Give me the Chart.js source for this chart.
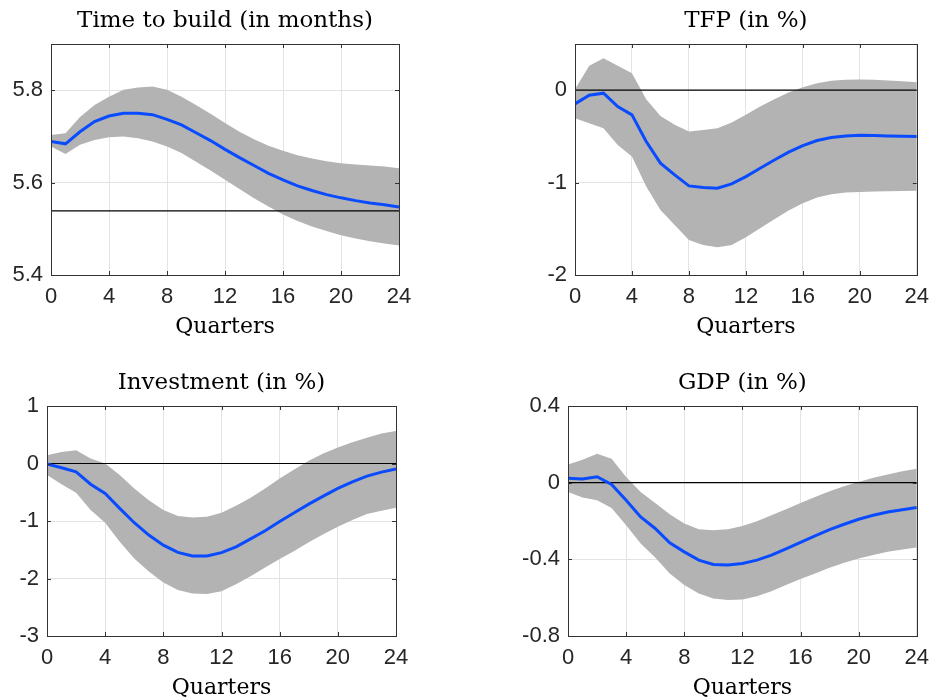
<!DOCTYPE html>
<html>
<head>
<meta charset="utf-8">
<script src="https://cdn.jsdelivr.net/npm/chart.js@4"></script>
<style>
    body { margin: 0; background: #fff; }
    #wrap { position: relative; width: 938px; height: 700px; }
    canvas { position: absolute; }
</style>
</head>
<body>
<div id="wrap">
    <canvas id="c1" width="469" height="350" style="left:0;top:0"></canvas>
    <canvas id="c2" width="469" height="350" style="left:469px;top:0"></canvas>
    <canvas id="c3" width="469" height="350" style="left:0;top:350px"></canvas>
    <canvas id="c4" width="469" height="350" style="left:469px;top:350px"></canvas>
</div>
<script>
var quarters = [0,1,2,3,4,5,6,7,8,9,10,11,12,13,14,15,16,17,18,19,20,21,22,23,24];
var xTicks = [0,4,8,12,16,20,24];

// Time to build (in months)
var ttbMedian = [5.689,5.684,5.710,5.732,5.744,5.750,5.750,5.747,5.737,5.725,5.708,5.691,5.672,5.654,5.637,5.620,5.606,5.593,5.583,5.574,5.567,5.561,5.556,5.552,5.547];
var ttbUpper  = [5.703,5.707,5.742,5.768,5.786,5.801,5.806,5.808,5.801,5.786,5.768,5.749,5.729,5.710,5.694,5.680,5.669,5.659,5.652,5.646,5.642,5.639,5.637,5.635,5.631];
var ttbLower  = [5.678,5.662,5.682,5.692,5.698,5.700,5.696,5.689,5.678,5.664,5.645,5.626,5.606,5.586,5.566,5.548,5.531,5.517,5.505,5.495,5.486,5.479,5.473,5.468,5.464];
var ttbSteady = 5.5386;
var ttbTicks = [5.4,5.6,5.8];

// TFP (in %)
var tfpMedian = [-0.148,-0.054,-0.032,-0.177,-0.267,-0.556,-0.790,-0.917,-1.036,-1.054,-1.061,-1.014,-0.935,-0.845,-0.755,-0.671,-0.599,-0.545,-0.513,-0.495,-0.487,-0.491,-0.495,-0.498,-0.502];
var tfpUpper  = [0.010,0.264,0.347,0.264,0.184,-0.097,-0.278,-0.375,-0.448,-0.430,-0.412,-0.350,-0.267,-0.177,-0.097,-0.025,0.032,0.076,0.101,0.112,0.116,0.112,0.105,0.097,0.087];
var tfpLower  = [-0.303,-0.357,-0.412,-0.592,-0.718,-1.043,-1.296,-1.458,-1.621,-1.675,-1.700,-1.675,-1.592,-1.495,-1.397,-1.303,-1.224,-1.162,-1.126,-1.108,-1.101,-1.097,-1.094,-1.090,-1.087];
var tfpTicks = [-2,-1,0];

// Investment (in %)
var invMedian = [-0.010,-0.075,-0.145,-0.360,-0.520,-0.780,-1.030,-1.245,-1.420,-1.546,-1.610,-1.610,-1.550,-1.450,-1.310,-1.170,-1.010,-0.857,-0.706,-0.567,-0.434,-0.318,-0.220,-0.150,-0.093];
var invUpper  = [0.145,0.200,0.230,0.087,0.000,-0.200,-0.434,-0.637,-0.810,-0.915,-0.940,-0.926,-0.857,-0.735,-0.596,-0.434,-0.260,-0.104,0.046,0.174,0.278,0.370,0.450,0.520,0.567];
var invLower  = [-0.200,-0.360,-0.510,-0.810,-1.030,-1.360,-1.650,-1.880,-2.070,-2.200,-2.260,-2.270,-2.220,-2.100,-1.960,-1.810,-1.660,-1.520,-1.370,-1.230,-1.100,-0.984,-0.880,-0.820,-0.770];
var invTicks = [-3,-2,-1,0,1];

// GDP (in %)
var gdpMedian = [0.023,0.019,0.031,-0.009,-0.092,-0.179,-0.239,-0.314,-0.361,-0.404,-0.427,-0.430,-0.422,-0.404,-0.378,-0.345,-0.311,-0.278,-0.245,-0.217,-0.191,-0.170,-0.153,-0.141,-0.130];
var gdpUpper  = [0.095,0.120,0.151,0.125,0.030,-0.049,-0.106,-0.165,-0.213,-0.243,-0.248,-0.243,-0.226,-0.201,-0.170,-0.139,-0.106,-0.075,-0.045,-0.019,0.003,0.026,0.043,0.059,0.073];
var gdpLower  = [-0.049,-0.078,-0.092,-0.132,-0.222,-0.318,-0.390,-0.474,-0.534,-0.578,-0.604,-0.612,-0.609,-0.592,-0.566,-0.534,-0.503,-0.474,-0.444,-0.418,-0.396,-0.378,-0.361,-0.349,-0.338];
var gdpTicks = [-0.8,-0.4,0,0.4];

var BLUE = "#0a4bff";
var BAND = "#b3b3b3";
var SANS = "'Liberation Sans', Arial, sans-serif";
var SERIF = "'DejaVu Serif', serif";

function pts(values) {
    return quarters.map((q, i) => ({ x: q, y: values[i] }));
}

// box around plot area with MATLAB style inward ticks
var boxPlugin = {
    id: "box",
    afterDraw(chart) {
        var a = chart.chartArea;
        var ctx = chart.ctx;
        ctx.save();
        ctx.strokeStyle = "#333";
        ctx.lineWidth = 1;
        var sx = chart.scales.x, sy = chart.scales.y;
        ctx.beginPath();
        sx.ticks.forEach(t => {
            var px = Math.round(sx.getPixelForValue(t.value)) + 0.5;
            ctx.moveTo(px, a.bottom); ctx.lineTo(px, a.bottom - 4);
            ctx.moveTo(px, a.top); ctx.lineTo(px, a.top + 4);
        });
        sy.ticks.forEach(t => {
            var py = Math.round(sy.getPixelForValue(t.value)) + 0.5;
            ctx.moveTo(a.left, py); ctx.lineTo(a.left + 4, py);
            ctx.moveTo(a.right, py); ctx.lineTo(a.right - 4, py);
        });
        ctx.stroke();
        ctx.strokeRect(Math.round(a.left) + 0.5, Math.round(a.top) + 0.5,
            Math.round(a.right - a.left), Math.round(a.bottom - a.top));
        ctx.restore();
    }
};

function makePanel(id, cfg) {
    var ctx = document.getElementById(id).getContext("2d");
    new Chart(ctx, {
        type: "line",
        data: {
            datasets: [
                { data: pts(cfg.lower), borderWidth: 0, pointRadius: 0, fill: false, order: 3 },
                { data: pts(cfg.upper), borderWidth: 0, pointRadius: 0, fill: 0, backgroundColor: BAND, order: 2 },
                { data: [{ x: 0, y: cfg.ref }, { x: 24, y: cfg.ref }], borderColor: "#000", borderWidth: 1.2, pointRadius: 0, fill: false, order: 1 },
                { data: pts(cfg.median), borderColor: BLUE, borderWidth: 3, pointRadius: 0, fill: false, order: 0 }
            ]
        },
        options: {
            responsive: false,
            animation: false,
            layout: { padding: { left: 0, right: cfg.padRight, top: cfg.padTop, bottom: cfg.padBottom } },
            plugins: {
                legend: { display: false },
                tooltip: { enabled: false },
                title: {
                    display: true,
                    text: cfg.title,
                    fullSize: false,
                    color: "#000",
                    font: { family: SERIF, size: 23, weight: "normal", lineHeight: 1 },
                    padding: { top: 10, bottom: 11 }
                }
            },
            scales: {
                x: {
                    type: "linear",
                    min: 0, max: 24,
                    afterBuildTicks: s => { s.ticks = xTicks.map(v => ({ value: v })); },
                    afterFit: s => { s.height = 63; },
                    grid: { color: "#e3e3e3", drawTicks: false },
                    border: { display: false },
                    ticks: { color: "#262626", padding: 9, maxRotation: 0, font: { family: SANS, size: 22 } },
                    title: {
                        display: true, text: "Quarters", color: "#000",
                        font: { family: SERIF, size: 22, lineHeight: 1 },
                        padding: { top: 0, bottom: 0 }
                    }
                },
                y: {
                    min: cfg.yMin, max: cfg.yMax,
                    afterBuildTicks: s => { s.ticks = cfg.ticks.map(v => ({ value: v })); },
                    afterFit: s => { s.width = cfg.axisLeft; },
                    grid: { color: "#e3e3e3", drawTicks: false },
                    border: { display: false },
                    ticks: {
                        color: "#262626", padding: 8,
                        font: { family: SANS, size: 22 },
                        callback: v => String(Math.round(v * 10) / 10)
                    }
                }
            }
        },
        plugins: [boxPlugin]
    });
}

makePanel("c1", { title: "Time to build (in months)", median: ttbMedian, upper: ttbUpper, lower: ttbLower, ref: ttbSteady,
    ticks: ttbTicks, yMin: 5.4, yMax: 5.9, axisLeft: 51, padRight: 70, padTop: 0, padBottom: 12 });
makePanel("c2", { title: "TFP (in %)", median: tfpMedian, upper: tfpUpper, lower: tfpLower, ref: 0,
    ticks: tfpTicks, yMin: -2, yMax: 0.5, axisLeft: 106, padRight: 14, padTop: 0, padBottom: 12 });
makePanel("c3", { title: "Investment (in %)", median: invMedian, upper: invUpper, lower: invLower, ref: 0,
    ticks: invTicks, yMin: -3, yMax: 1, axisLeft: 47, padRight: 73, padTop: 12, padBottom: 1 });
makePanel("c4", { title: "GDP (in %)", median: gdpMedian, upper: gdpUpper, lower: gdpLower, ref: 0,
    ticks: gdpTicks, yMin: -0.8, yMax: 0.4, axisLeft: 99, padRight: 21, padTop: 12, padBottom: 1 });
</script>
</body>
</html>
